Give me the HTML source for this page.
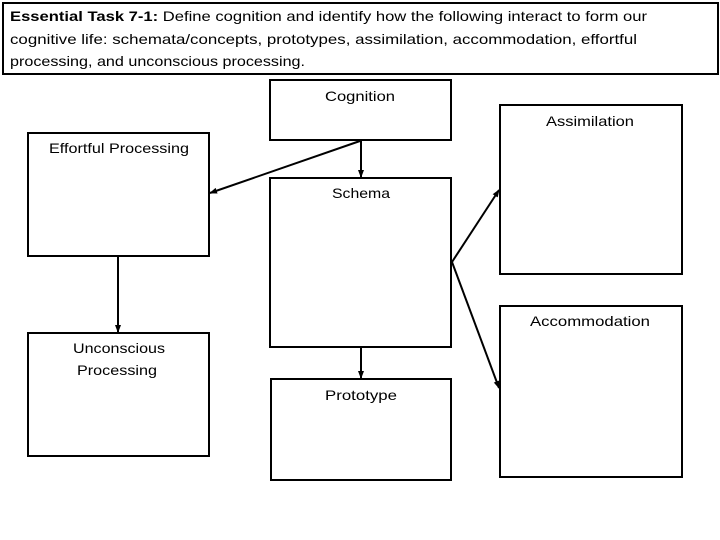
<!DOCTYPE html>
<html><head><meta charset="utf-8"><style>
html,body{margin:0;padding:0;background:#fff;}
svg{display:block;}
text{font-family:"Liberation Sans",sans-serif;font-size:14px;fill:#000;}
</style></head><body>
<svg width="720" height="540" viewBox="0 0 720 540" xmlns="http://www.w3.org/2000/svg">
<defs>
<marker id="a" markerWidth="8" markerHeight="8" refX="7" refY="4" orient="auto" markerUnits="userSpaceOnUse">
<path d="M0,1 L8,4 L0,7 Z" fill="#000"/>
</marker>
</defs>
<rect x="3" y="3" width="715" height="71" fill="none" stroke="#000" stroke-width="2"/>
<text x="10" y="21" textLength="637" lengthAdjust="spacingAndGlyphs"><tspan font-weight="bold">Essential Task 7-1:</tspan> Define cognition and identify how the following interact to form our</text>
<text x="10" y="44" textLength="627" lengthAdjust="spacingAndGlyphs">cognitive life: schemata/concepts, prototypes, assimilation, accommodation, effortful</text>
<text x="10" y="66" textLength="295" lengthAdjust="spacingAndGlyphs">processing, and unconscious processing.</text>

<g fill="none" stroke="#000" stroke-width="2">
<rect x="270" y="80" width="181" height="60"/>
<rect x="500" y="105" width="182" height="169"/>
<rect x="28" y="133" width="181" height="123"/>
<rect x="270" y="178" width="181" height="169"/>
<rect x="500" y="306" width="182" height="171"/>
<rect x="28" y="333" width="181" height="123"/>
<rect x="271" y="379" width="180" height="101"/>
</g>
<g stroke="#000" stroke-width="2" fill="none">
<line x1="361" y1="141" x2="361" y2="177" marker-end="url(#a)"/>
<line x1="360" y1="141" x2="210" y2="193" marker-end="url(#a)"/>
<line x1="118" y1="257" x2="118" y2="332" marker-end="url(#a)"/>
<line x1="361" y1="348" x2="361" y2="378" marker-end="url(#a)"/>
<line x1="452" y1="262" x2="499" y2="190" marker-end="url(#a)"/>
<line x1="452" y1="262" x2="499" y2="388" marker-end="url(#a)"/>
</g>
<g text-anchor="middle">
<text x="360" y="101" textLength="70" lengthAdjust="spacingAndGlyphs">Cognition</text>
<text x="590" y="126" textLength="88" lengthAdjust="spacingAndGlyphs">Assimilation</text>
<text x="119" y="153" textLength="140" lengthAdjust="spacingAndGlyphs">Effortful Processing</text>
<text x="361" y="198" textLength="58" lengthAdjust="spacingAndGlyphs">Schema</text>
<text x="590" y="326" textLength="120" lengthAdjust="spacingAndGlyphs">Accommodation</text>
<text x="119" y="353" textLength="92" lengthAdjust="spacingAndGlyphs">Unconscious</text>
<text x="117" y="375" textLength="80" lengthAdjust="spacingAndGlyphs">Processing</text>
<text x="361" y="400" textLength="72" lengthAdjust="spacingAndGlyphs">Prototype</text>
</g>
</svg>
</body></html>
